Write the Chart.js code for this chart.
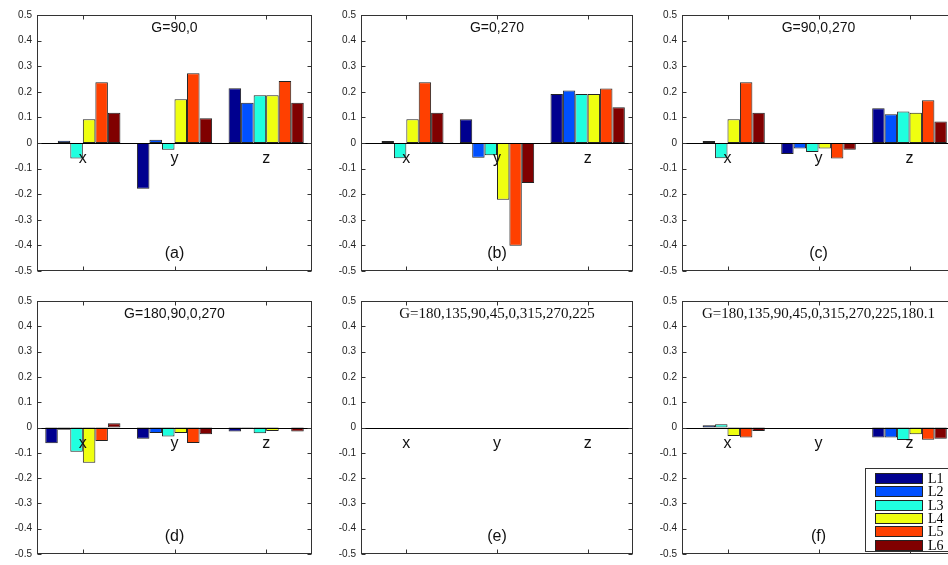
<!DOCTYPE html>
<html>
<head>
<meta charset="utf-8">
<script src="https://cdn.jsdelivr.net/npm/chart.js@4.4.0/dist/chart.umd.min.js"></script>
<style>
  html, body { margin: 0; padding: 0; background: #fff; width: 948px; height: 565px; overflow: hidden; }
  canvas { position: absolute; }
  #legend { position: absolute; left: 865px; top: 468px; width: 100px; height: 84px; border: 1px solid #333;
            background: #fff; box-sizing: border-box; padding-top: 3px; }
  .item { height: 13.3px; display: flex; align-items: center; }
  .swatch { width: 48px; height: 11px; box-sizing: border-box; border: 1px solid #222; margin-left: 9px; margin-right: 5px; }
  .item span { font: 14px "Liberation Serif", "Times New Roman", serif; color: #000; line-height: 13px; }
</style>
</head>
<body>
<div id="legend"></div>
<script>
'use strict';

// categories and series
const categories = ['x', 'y', 'z'];
const seriesNames = ['L1', 'L2', 'L3', 'L4', 'L5', 'L6'];
const seriesColors = ['#00008f', '#0050ff', '#20ffdf', '#efff10', '#ff4000', '#800000'];

const panelTitles = ['G=90,0', 'G=0,270', 'G=90,0,270', 'G=180,90,0,270',
    'G=180,135,90,45,0,315,270,225', 'G=180,135,90,45,0,315,270,225,180.1'];
const panelLabels = ['(a)', '(b)', '(c)', '(d)', '(e)', '(f)'];

// values: one row per series (L1..L6), one column per category (x, y, z)
const valuesA = [
    [0, -0.179, 0.214],
    [0.009, 0.013, 0.157],
    [-0.061, -0.026, 0.187],
    [0.093, 0.171, 0.187],
    [0.237, 0.272, 0.242],
    [0.118, 0.097, 0.157]
];
const valuesB = [
    [0, 0.093, 0.191],
    [0.008, -0.058, 0.205],
    [-0.060, -0.048, 0.191],
    [0.093, -0.222, 0.191],
    [0.237, -0.401, 0.213],
    [0.118, -0.156, 0.140]
];
const valuesC = [
    [0, -0.043, 0.136],
    [0.008, -0.021, 0.112],
    [-0.060, -0.035, 0.123],
    [0.093, -0.021, 0.118],
    [0.237, -0.061, 0.167],
    [0.118, -0.026, 0.084]
];
const valuesD = [
    [-0.062, -0.044, -0.016],
    [-0.009, -0.022, -0.003],
    [-0.096, -0.036, -0.023],
    [-0.139, -0.022, -0.014],
    [-0.053, -0.061, 0],
    [0.017, -0.027, -0.016]
];
const valuesE = [
    [0, 0, 0],
    [0, 0, 0],
    [0, 0, 0],
    [0, 0, 0],
    [0, 0, 0],
    [0, 0, 0]
];
const valuesF = [
    [0, 0, -0.040],
    [0.009, 0, -0.040],
    [0.013, 0, -0.049],
    [-0.034, 0, -0.027],
    [-0.040, 0, -0.048],
    [-0.014, 0, -0.044]
];
const panelValues = [valuesA, valuesB, valuesC, valuesD, valuesE, valuesF];

// y axis range and ticks
const yMin = -0.5;
const yMax = 0.5;
const yStep = 0.1;

// canvas placement for each panel (layout only)
const layouts = [
    { left: 0,   top: 0,   w: 316, h: 282, axisW: 37, padTop: 15, padBottom: 11, padRight: 4 },
    { left: 320, top: 0,   w: 318, h: 282, axisW: 41, padTop: 15, padBottom: 11, padRight: 5 },
    { left: 640, top: 0,   w: 320, h: 282, axisW: 42, padTop: 15, padBottom: 11, padRight: 5 },
    { left: 0,   top: 288, w: 316, h: 277, axisW: 37, padTop: 13, padBottom: 8,  padRight: 4 },
    { left: 320, top: 288, w: 318, h: 277, axisW: 41, padTop: 13, padBottom: 8,  padRight: 5 },
    { left: 640, top: 288, w: 320, h: 277, axisW: 42, padTop: 13, padBottom: 8,  padRight: 5 }
];
const titleFonts = ['14px "Liberation Sans", Arial, sans-serif', '14px "Liberation Sans", Arial, sans-serif',
    '14px "Liberation Sans", Arial, sans-serif', '14px "Liberation Sans", Arial, sans-serif',
    '15px "Liberation Serif", "Times New Roman", serif', '15px "Liberation Serif", "Times New Roman", serif'];

// draws the MATLAB style box, inward ticks, zero line and the texts inside the axes
const panelDecor = {
    id: 'panelDecor',
    afterDatasetsDraw(chart) {
        const o = chart.options.plugins.panelDecor;
        const ctx = chart.ctx;
        const a = chart.chartArea;
        const xs = chart.scales.x;
        const ys = chart.scales.y;
        const L = Math.round(a.left) + 0.5, R = Math.round(a.right) - 0.5;
        const T = Math.round(a.top) + 0.5, B = Math.round(a.bottom) - 0.5;
        ctx.save();

        // zero line
        const y0 = Math.round(ys.getPixelForValue(0)) + 0.5;
        ctx.strokeStyle = '#000';
        ctx.lineWidth = 1;
        ctx.beginPath();
        ctx.moveTo(L, y0);
        ctx.lineTo(R, y0);
        ctx.stroke();

        // box
        ctx.strokeStyle = '#333';
        ctx.strokeRect(L, T, R - L, B - T);

        // y ticks, inward on both sides
        ctx.beginPath();
        ys.ticks.forEach((t, i) => {
            const py = Math.round(ys.getPixelForTick(i)) + 0.5;
            ctx.moveTo(L, py); ctx.lineTo(L + 4, py);
            ctx.moveTo(R, py); ctx.lineTo(R - 4, py);
        });
        // x ticks, inward top and bottom
        categories.forEach((c, i) => {
            const px = Math.round(xs.getPixelForValue(i)) + 0.5;
            ctx.moveTo(px, T); ctx.lineTo(px, T + 4);
            ctx.moveTo(px, B); ctx.lineTo(px, B - 4);
        });
        ctx.stroke();

        // category labels just below zero
        ctx.fillStyle = '#111';
        ctx.textAlign = 'center';
        ctx.textBaseline = 'alphabetic';
        ctx.font = '16px "Liberation Sans", Arial, sans-serif';
        categories.forEach((c, i) => {
            ctx.fillText(c, xs.getPixelForValue(i), y0 + 19);
        });

        const cx = (a.left + a.right) / 2;
        ctx.font = o.titleFont;
        ctx.fillText(o.title, cx, a.top + 17);
        ctx.font = '16px "Liberation Sans", Arial, sans-serif';
        ctx.fillText(o.label, cx, a.bottom - 13);
        ctx.restore();
    }
};

function makePanel(idx) {
    const lay = layouts[idx];
    const canvas = document.createElement('canvas');
    canvas.width = lay.w;
    canvas.height = lay.h;
    canvas.style.left = lay.left + 'px';
    canvas.style.top = lay.top + 'px';
    canvas.style.width = lay.w + 'px';
    canvas.style.height = lay.h + 'px';
    document.body.insertBefore(canvas, document.getElementById('legend'));

    const datasets = seriesNames.map((name, k) => ({
        label: name,
        data: panelValues[idx][k],
        backgroundColor: seriesColors[k],
        borderColor: '#222',
        borderWidth: 1,
        borderSkipped: false,
        categoryPercentage: 0.82,
        barPercentage: 1.0
    }));

    return new Chart(canvas.getContext('2d'), {
        type: 'bar',
        data: { labels: categories, datasets: datasets },
        options: {
            responsive: false,
            animation: false,
            devicePixelRatio: 1,
            layout: { padding: { top: lay.padTop, bottom: lay.padBottom, right: lay.padRight, left: 0 } },
            plugins: {
                legend: { display: false },
                tooltip: { enabled: false },
                panelDecor: { title: panelTitles[idx], label: panelLabels[idx], titleFont: titleFonts[idx] }
            },
            scales: {
                x: { type: 'category', display: false, offset: true },
                y: {
                    type: 'linear',
                    min: yMin,
                    max: yMax,
                    grid: { display: false, drawTicks: false },
                    border: { display: false },
                    ticks: {
                        stepSize: yStep,
                        padding: 5,
                        color: '#222',
                        font: { family: '"Liberation Sans", Arial, sans-serif', size: 10 },
                        callback: v => String(Math.round(v * 10) / 10)
                    },
                    afterFit: scale => { scale.width = lay.axisW; }
                }
            }
        },
        plugins: [panelDecor]
    });
}

for (let i = 0; i < panelValues.length; i++) {
    makePanel(i);
}

// legend inside panel (f)
const legendBox = document.getElementById('legend');
seriesNames.forEach((name, k) => {
    const row = document.createElement('div');
    row.className = 'item';
    const sw = document.createElement('div');
    sw.className = 'swatch';
    sw.style.background = seriesColors[k];
    const label = document.createElement('span');
    label.textContent = name;
    row.appendChild(sw);
    row.appendChild(label);
    legendBox.appendChild(row);
});
</script>
</body>
</html>
